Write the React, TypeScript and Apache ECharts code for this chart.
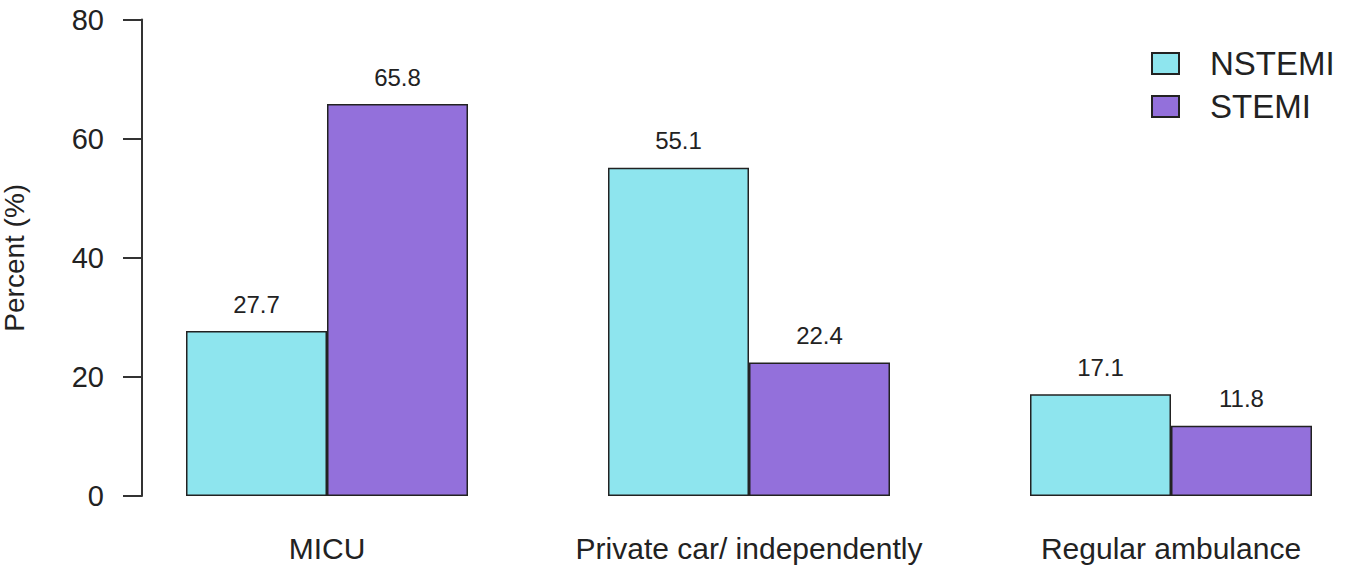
import React, { useEffect, useRef } from "react";
import * as echarts from "echarts";

const categories = ["MICU", "Private car/ independently", "Regular ambulance"];
const nstemiValues = [27.7, 55.1, 17.1];
const stemiValues = [65.8, 22.4, 11.8];
const yTicks = { min: 0, max: 80, interval: 20 };
const seriesNames = ["NSTEMI", "STEMI"];

const FONT = "Liberation Sans, Arial, Helvetica, sans-serif";

export default function App() {
  const ref = useRef<HTMLDivElement>(null);
  useEffect(() => {
    document.body.style.margin = "0";
    const chart = echarts.init(ref.current!, null, { renderer: "svg" });
    const barStyle = (color: string) => ({
      color,
      borderColor: "#222",
      borderWidth: 1.5,
    });
    const labelCfg = {
      show: true,
      position: "top" as const,
      distance: 15,
      color: "#222",
      fontSize: 24,
      fontFamily: FONT,
    };
    chart.setOption({
      animation: false,
      backgroundColor: "#ffffff",
      textStyle: { fontFamily: FONT },
      grid: {
        left: 116,
        right: -37,
        top: 19.5,
        bottom: 74,
        containLabel: false,
        outerBoundsMode: "none",
      },
      legend: {
        left: 1146,
        top: 42,
        orient: "vertical",
        itemWidth: 27,
        itemHeight: 21,
        itemGap: 10,
        icon: "rect",
        textStyle: { fontSize: 33, color: "#222", fontFamily: FONT, padding: [0, 0, 0, 26] },
        data: seriesNames,
      },
      xAxis: {
        type: "category",
        data: categories,
        axisLine: { show: false },
        axisTick: { show: false },
        axisLabel: { fontSize: 30, color: "#222", margin: 37, fontFamily: FONT, interval: 0 },
      },
      yAxis: {
        type: "value",
        min: yTicks.min,
        max: yTicks.max,
        interval: yTicks.interval,
        offset: -26,
        name: "Percent (%)",
        nameLocation: "middle",
        nameGap: 114,
        nameRotate: 90,
        nameTextStyle: { fontSize: 28, color: "#222", fontFamily: FONT },
        axisLine: { show: true, lineStyle: { color: "#333", width: 2 } },
        axisTick: { show: true, length: 19, lineStyle: { color: "#333", width: 2 } },
        axisLabel: { fontSize: 29, color: "#222", margin: 38, fontFamily: FONT },
        splitLine: { show: false },
      },
      series: [
        {
          name: seriesNames[0],
          type: "bar",
          data: nstemiValues,
          barWidth: 141,
          barGap: "0%",
          itemStyle: barStyle("#8EE5EE"),
          label: labelCfg,
        },
        {
          name: seriesNames[1],
          type: "bar",
          data: stemiValues,
          barWidth: 141,
          barGap: "0%",
          itemStyle: barStyle("#9370DB"),
          label: labelCfg,
        },
      ],
    });
    return () => chart.dispose();
  }, []);
  return <div ref={ref} style={{ width: 1345, height: 570 }} />;
}
